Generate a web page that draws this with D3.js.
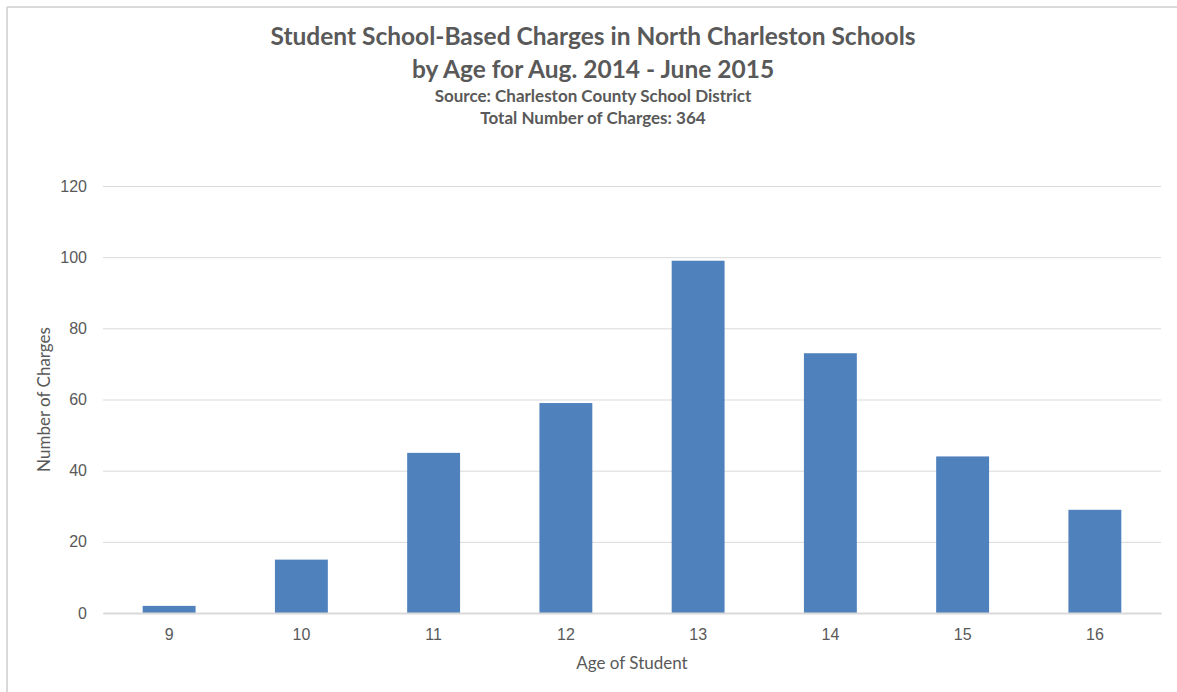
<!DOCTYPE html>
<html>
<head>
<meta charset="utf-8">
<script src="https://cdn.jsdelivr.net/npm/d3@7"></script>
<style>
  body { margin: 0; background: #fff; }
  svg { display: block; font-family: Lato, 'Open Sans', sans-serif; }
</style>
</head>
<body>
<svg width="1177" height="692"></svg>
<script>
const ages = ['9', '10', '11', '12', '13', '14', '15', '16'];
const charges = [2, 15, 45, 59, 99, 73, 44, 29];
const yTicks = [0, 20, 40, 60, 80, 100, 120];
const titleLines = ['Student School-Based Charges in North Charleston Schools', 'by Age for Aug. 2014 - June 2015'];
const subLines = ['Source: Charleston County School District', 'Total Number of Charges: 364'];

const margin = { top: 186, right: 16, bottom: 79, left: 103 };
const svg = d3.select('svg');
const width = 1177 - margin.left - margin.right;
const height = 692 - margin.top - margin.bottom;

// frame lines (top + left)
svg.append('line').attr('x1', 7).attr('x2', 1177).attr('y1', 7).attr('y2', 7)
  .attr('stroke', '#d9d9d9').attr('stroke-width', 2);
svg.append('line').attr('x1', 7).attr('x2', 7).attr('y1', 7).attr('y2', 692)
  .attr('stroke', '#d9d9d9').attr('stroke-width', 2);

const g = svg.append('g').attr('transform', `translate(${margin.left},${margin.top})`);

const x = d3.scaleBand().domain(ages).range([0, width]).paddingInner(0.6).paddingOuter(0.3);
const y = d3.scaleLinear().domain([0, 120]).range([height, 0]);

// gridlines
g.append('g')
  .call(d3.axisLeft(y).tickValues(yTicks).tickSize(-width).tickFormat(''))
  .call(a => a.select('.domain').remove())
  .call(a => a.selectAll('line').attr('stroke', '#d9d9d9').attr('stroke-width', 1));

// y tick labels
g.append('g')
  .call(d3.axisLeft(y).tickValues(yTicks).tickSize(0).tickPadding(16))
  .call(a => a.select('.domain').remove())
  .call(a => a.selectAll('text').attr('fill', '#595959').style('font-size', '16px'));

// bars
g.selectAll('rect.bar')
  .data(ages.map((a, i) => ({ age: a, value: charges[i] })))
  .enter().append('rect')
  .attr('class', 'bar')
  .attr('x', d => x(d.age))
  .attr('y', d => y(d.value))
  .attr('width', x.bandwidth())
  .attr('height', d => height - y(d.value))
  .attr('fill', '#4f81bd');

// x axis
g.append('g')
  .attr('transform', `translate(0,${height})`)
  .call(d3.axisBottom(x).tickSize(0).tickPadding(16))
  .call(a => a.select('.domain').attr('stroke', '#d9d9d9').attr('stroke-width', 2))
  .call(a => a.selectAll('text').attr('fill', '#595959').style('font-size', '16px'));

// axis titles
svg.append('text')
  .attr('x', margin.left + width / 2).attr('y', 669)
  .attr('text-anchor', 'middle').attr('fill', '#595959').style('font-size', '17px')
  .text('Age of Student');

svg.append('text')
  .attr('transform', `translate(50,${margin.top + height / 2}) rotate(-90)`)
  .attr('text-anchor', 'middle').attr('fill', '#595959').style('font-size', '17px')
  .text('Number of Charges');

// titles
const cx = 593;
svg.selectAll('text.title')
  .data(titleLines)
  .enter().append('text')
  .attr('class', 'title')
  .attr('x', cx).attr('y', (d, i) => 45 + i * 33)
  .attr('text-anchor', 'middle').attr('fill', '#595959')
  .style('font-size', '24.5px').style('font-weight', 'bold')
  .text(d => d);

svg.selectAll('text.sub')
  .data(subLines)
  .enter().append('text')
  .attr('class', 'sub')
  .attr('x', cx).attr('y', (d, i) => 102 + i * 22)
  .attr('text-anchor', 'middle').attr('fill', '#595959')
  .style('font-size', '17px').style('font-weight', 'bold')
  .text(d => d);
</script>
</body>
</html>
